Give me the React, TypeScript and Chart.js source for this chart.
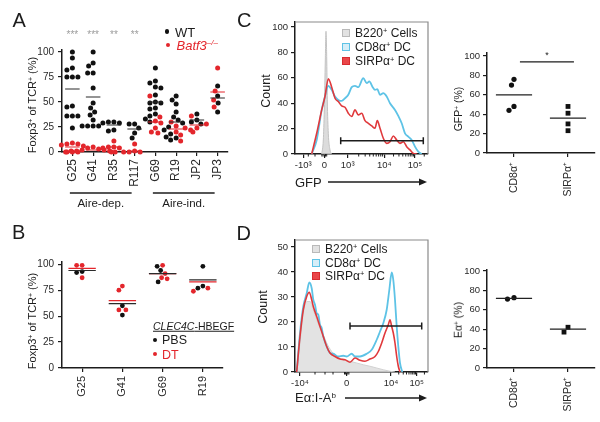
import React, { useEffect, useRef } from 'react';
import { Chart, registerables } from 'chart.js';

Chart.register(...registerables);

/* ======================= DATA ======================= */

// ---- Panel A: Foxp3+ of TCR+ (%) per TCR clone, WT vs Batf3-/- ----
const aCategories = ['G25', 'G41', 'R35', 'R117', 'G69', 'R19', 'JP2', 'JP3'];
const aWT = [
  [100, 94, 84, 82, 75, 75, 75, 46, 45, 36, 36, 36, 24],
  [100, 89, 86, 79, 79, 64, 49, 44, 40, 37, 32, 26, 26, 26, 26],
  [30, 30, 29, 29, 22, 21],
  [28, 28, 24, 19, 14],
  [84, 71, 69, 65, 64, 57, 50, 49, 49, 44, 43, 38, 36, 33, 30],
  [56, 52, 48, 40, 35, 32, 29, 25, 22, 18, 15, 14, 12],
  [38, 32, 30, 28],
  [66, 56, 49, 40],
];
const aBatf3 = [
  [9, 8, 8, 7, 6, 0, 0, 0],
  [5, 4, 3, 2, 2, 1, 1, 1, 0, 0],
  [11, 5, 5, 4, 4, 0],
  [8, 1, 0, 0, 0],
  [56, 35, 31, 29, 24, 20, 19],
  [30, 26, 24, 22, 20, 17, 11],
  [36, 28, 24, 20],
  [84, 61, 52, 45],
];
const aWTMean = [63, 55, 27, 23, 50, 30, 32, 54];
const aBatf3Mean = [5, 2, 5, 1, 30, 23, 27, 60];
const aSignif = ['***', '***', '**', '**', '', '', '', ''];
const aStarLevel = 117;
const aGroups = [
  { label: 'Aire-dep.', first: 0, last: 3 },
  { label: 'Aire-ind.', first: 4, last: 7 },
];
const aYTicks = [0, 25, 50, 75, 100];

// ---- Panel B: CLEC4C-HBEGF, PBS vs DT ----
const bCategories = ['G25', 'G41', 'G69', 'R19'];
const bPBS = [
  [93, 92],
  [60, 51],
  [98, 94, 83],
  [98, 79, 77],
];
const bDT = [
  [99, 99, 87],
  [79, 75, 56, 56],
  [99, 91, 87, 86],
  [77, 74],
];
const bPBSMean = [94, 62, 91, 85];
const bDTMean = [96, 65, 91, 83];
const bYTicks = [0, 25, 50, 75, 100];

// ---- Panel C: GFP histogram (x = position on biexponential display axis) ----
const cXTickValues = [8.3, 29.3, 52.7, 89.3, 120];
const cXTickLabels = ['-10³', '0', '10³', '10⁴', '10⁵'];
const cYTicks = [0, 20, 40, 60, 80, 100];
const cGrayX = [26.7, 28.3, 29.3, 30.3, 31, 31.7, 32.3, 33.3, 35, 36.7];
const cGrayY = [0, 11, 34.7, 74, 96.6, 76.8, 42.6, 16.3, 3.2, 0];
const cBlueX = [16.7, 21.7, 26.7, 30, 33.3, 36.7, 40, 43.3, 46.7, 50, 53.3, 56.7, 60, 63.3, 68.3, 71.7, 74.3, 77.7, 80, 82.3, 85, 88.3, 91.7, 95, 100, 103.3, 106.7, 110, 113.3, 116.7, 120, 123.3, 126.7];
const cBlueY = [0, 11, 34.7, 45.3, 53.7, 50.5, 45.3, 42.6, 41.8, 43.9, 46.6, 52.6, 53.7, 52.6, 59.7, 55.8, 57.1, 52.6, 50.5, 51, 46.6, 47.9, 45.3, 40, 34.7, 30, 24.2, 16.3, 13.7, 11, 5.8, 1.8, 0];
const cRedX = [16.7, 21.7, 26.7, 30, 33.3, 36.7, 40, 43.3, 46.7, 50, 53.3, 56.7, 60, 63.3, 66.7, 70, 73.3, 76.7, 80, 82.3, 85, 88.3, 91.7, 95, 98.3, 101.7, 105, 108.3, 111.7, 115, 118.3, 121.7];
const cRedY = [0, 16.3, 34.7, 45.3, 59.2, 52.6, 43.9, 41.3, 37.9, 36.8, 32.1, 29.5, 34.7, 30.8, 32.1, 26.3, 24.2, 22.1, 20.3, 26.3, 20.3, 12.4, 8.4, 9.7, 14.2, 11, 8.4, 9.7, 5.8, 3.2, 0.5, 0];
const cGate = { from: 45.7, to: 128.3, y: 10.5 };
const cZeroCluster = [26.9, 28.1, 30.5, 31.7, 13.3, 20];

// ---- Panel C: GFP+ (%) dot plot ----
const cdCategories = ['CD8α⁺', 'SIRPα⁺'];
const cdCD8 = [76, 70, 48, 44];
const cdSIRP = [48, 41, 30, 23];
const cdMeans = [60, 36];
const cdSig = { label: '*', from: 1.22, to: 3.22, y: 94, starY: 100 };
const cdYTicks = [0, 20, 40, 60, 80, 100];

// ---- Panel D: Eα:I-Ab histogram ----
const dXTickValues = [5, 51.7, 96, 121.7];
const dXTickLabels = ['-10⁴', '0', '10⁴', '10⁵'];
const dYTicks = [0, 10, 20, 30, 40, 50];
const dGrayX = [1.7, 5, 8.3, 11.7, 15, 18.3, 21.7, 25, 28.3, 31.7, 36.7, 41.7, 48.3, 55, 61.7, 68.3, 75, 81.7, 88.3, 95, 100];
const dGrayY = [0, 11.6, 23.5, 28.2, 28.2, 24.9, 20.9, 17.6, 14.9, 11.6, 8.2, 6.2, 4.9, 4.3, 3.6, 2.9, 2.3, 1.6, 0.9, 0.3, 0];
const dBlueX = [1.7, 5, 8.3, 11.7, 14.3, 16.7, 18.3, 20, 21.7, 23.3, 25, 26.7, 28.3, 31.7, 35, 38.3, 43.3, 48.3, 51.7, 56.7, 60, 65, 71.7, 76.7, 81.7, 85, 88.3, 91.7, 94.3, 96.7, 98.3, 100, 101.7, 103.3, 105, 107.3];
const dBlueY = [0, 15.6, 26.2, 31.5, 35.8, 33.5, 28.9, 26.9, 23.5, 22.9, 18.9, 17.6, 14.2, 10.2, 7.6, 7.3, 6.2, 6.5, 6.2, 7.3, 6.2, 6.2, 7.3, 8.9, 12.9, 16.2, 19.5, 24.9, 32.8, 39.8, 36.8, 28.9, 18.2, 10.2, 3.6, 0];
const dRedX = [1.7, 5, 8.3, 11.7, 14.3, 16.7, 18.3, 21.7, 25, 28.3, 31.7, 35, 40, 45, 50, 55, 60, 65, 70, 75, 80, 83.3, 86.7, 90, 93.3, 95, 96.7, 98.3, 100, 101.7, 103.3, 105];
const dRedY = [0, 14.2, 24.9, 30.2, 31.9, 28.9, 26.2, 22.2, 18.2, 14.2, 10.2, 7.6, 6.2, 5.2, 4.9, 3.9, 5.6, 4.7, 4.3, 5.2, 6.2, 8.2, 11.6, 15.6, 18.9, 20.9, 18.2, 15.6, 11.6, 6.2, 2.3, 0];
const dGate = { from: 55, to: 126.7, y: 18.4 };
const dZeroCluster = [49.5, 50.6, 52.8, 53.9, 20, 30, 38];

// ---- Panel D: Eα+ (%) dot plot ----
const ddCD8 = [72.5, 71];
const ddSIRP = [42, 37];
const ddMeans = [71.7, 40];
const ddYTicks = [0, 20, 40, 60, 80, 100];

/* ======================= STYLE ======================= */
const FONT = '"Liberation Sans", Arial, Helvetica, sans-serif';
const INK = '#1c1c1c';
const TICK_INK = '#2a2a2a';
const RED = '#e3262c';
const BLUE = '#5ec3e6';
const STAR_GRAY = '#9c9c9c';

type Frame = { x: number; y: number; w: number; h: number; l: number; t: number; r: number; b: number };

const FRAME_A: Frame = { x: 0, y: 0, w: 240, h: 215, l: 62, t: 50, r: 228, b: 152 };
const FRAME_B: Frame = { x: 0, y: 215, w: 240, h: 207, l: 62, t: 262, r: 223, b: 368 };
const FRAME_CH: Frame = { x: 240, y: 0, w: 200, h: 200, l: 295, t: 22, r: 428, b: 154 };
const FRAME_CD: Frame = { x: 440, y: 0, w: 160, h: 205, l: 487, t: 53, r: 595, b: 153 };
const FRAME_DH: Frame = { x: 240, y: 205, w: 200, h: 217, l: 295, t: 240, r: 428, b: 372 };
const FRAME_DD: Frame = { x: 440, y: 205, w: 160, h: 217, l: 487, t: 270, r: 595, b: 368 };

/* ======================= HELPERS ======================= */
function swarmOffsets(values: number[], pxPerY: number, minDist: number): number[] {
  const order = values.map((_, i) => i).sort((a, b) => values[b] - values[a]);
  const placed: { x: number; y: number }[] = [];
  const out = new Array(values.length).fill(0);
  for (const i of order) {
    const yy = values[i] * pxPerY;
    let chosen = 0;
    for (let k = 0; k < 400; k++) {
      const off = k === 0 ? 0 : k % 2 === 1 ? -Math.ceil(k / 2) * 0.5 : Math.ceil(k / 2) * 0.5;
      if (placed.every((p) => (p.x - off) ** 2 + (p.y - yy) ** 2 >= minDist * minDist)) {
        chosen = off;
        break;
      }
    }
    placed.push({ x: chosen, y: yy });
    out[i] = chosen;
  }
  return out;
}

function meanSegments(centers: number[], means: number[], half: number) {
  const pts: { x: number; y: number | null }[] = [];
  means.forEach((m, i) => {
    pts.push({ x: centers[i] - half, y: m });
    pts.push({ x: centers[i] + half, y: m });
    pts.push({ x: centers[i] + half + 0.01, y: null });
  });
  return pts;
}

function zip(xs: number[], ys: number[]) {
  return xs.map((x, i) => ({ x, y: ys[i] }));
}

function logMinors(a: number, b: number, limit: number) {
  const out: number[] = [];
  for (let k = 2; k <= 9; k++) {
    const v = a + Math.log10(k) * (b - a);
    if (v < limit) out.push(v);
  }
  return out;
}

function axis(o: {
  kind: 'x' | 'y';
  f: Frame;
  min: number;
  max: number;
  values: number[];
  labels?: string[];
  size: number;
  padding: number;
  rotate?: boolean;
  tickLength?: number;
}) {
  const { kind, f } = o;
  return {
    type: 'linear',
    min: o.min,
    max: o.max,
    afterFit: (s: any) => {
      if (kind === 'x') s.height = f.y + f.h - f.b;
      else s.width = f.l - f.x;
    },
    afterBuildTicks: (s: any) => {
      s.ticks = o.values.map((v) => ({ value: v }));
    },
    border: { display: true, color: INK, width: 1.5 },
    grid: {
      display: true,
      drawOnChartArea: false,
      drawTicks: true,
      tickLength: o.tickLength ?? 4,
      color: INK,
      lineWidth: 1.2,
    },
    ticks: {
      color: TICK_INK,
      font: { family: FONT, size: o.size },
      padding: o.padding,
      autoSkip: false,
      minRotation: o.rotate ? 90 : 0,
      maxRotation: o.rotate ? 90 : 0,
      callback: (v: any, i: number) => (o.labels ? o.labels[i] : String(v)),
    },
  };
}

function baseOptions(f: Frame, x: any, y: any) {
  return {
    responsive: false,
    animation: false,
    devicePixelRatio: 1,
    events: [],
    layout: { padding: { left: 0, top: f.t - f.y, right: f.x + f.w - f.r, bottom: 0 } },
    plugins: { legend: { display: false }, tooltip: { enabled: false } },
    scales: { x, y },
  };
}

function dots(data: any[], color: string, radius: number, style = 'circle') {
  return {
    data,
    showLine: false,
    pointStyle: style,
    pointRadius: radius,
    pointBackgroundColor: color,
    pointBorderColor: color,
    pointBorderWidth: 0,
    clip: false,
  };
}

function meanLine(data: any[], color: string, width = 1.2) {
  return {
    data,
    showLine: true,
    spanGaps: false,
    pointRadius: 0,
    borderColor: color,
    borderWidth: width,
    clip: false,
  };
}

/* ======================= CHART BUILDERS ======================= */
function buildA(f: Frame) {
  const xMin = -0.5;
  const xMax = aCategories.length - 0.5;
  const yMax = 102;
  const pxX = (f.r - f.l) / (xMax - xMin);
  const pxY = (f.b - f.t) / yMax;
  const wt: any[] = [];
  const ko: any[] = [];
  aCategories.forEach((_, i) => {
    const vals = [...aWT[i], ...aBatf3[i]];
    const offs = swarmOffsets(vals, pxY, 5.4);
    vals.forEach((v, j) => {
      const p = { x: i + offs[j] / pxX, y: v };
      (j < aWT[i].length ? wt : ko).push(p);
    });
  });
  const centers = aCategories.map((_, i) => i);
  const decor = {
    id: 'aDecor',
    afterDraw(chart: any) {
      const { ctx, chartArea: a } = chart;
      const xs = chart.scales.x;
      const ys = chart.scales.y;
      ctx.save();
      ctx.fillStyle = STAR_GRAY;
      ctx.font = `10px ${FONT}`;
      ctx.textAlign = 'center';
      ctx.textBaseline = 'middle';
      aSignif.forEach((s, i) => {
        if (s) ctx.fillText(s, xs.getPixelForValue(i), ys.getPixelForValue(aStarLevel));
      });
      ctx.strokeStyle = INK;
      ctx.lineWidth = 1.3;
      ctx.fillStyle = INK;
      ctx.font = `11.5px ${FONT}`;
      aGroups.forEach((g) => {
        const x1 = xs.getPixelForValue(g.first) - 2.5;
        const x2 = xs.getPixelForValue(g.last) - 3;
        const ly = a.bottom + 41;
        ctx.beginPath();
        ctx.moveTo(x1, ly);
        ctx.lineTo(x2, ly);
        ctx.stroke();
        ctx.fillText(g.label, (x1 + x2) / 2, ly + 11);
      });
      ctx.restore();
    },
  };
  return {
    type: 'scatter',
    data: {
      datasets: [
        meanLine(meanSegments(centers, aWTMean, 0.35), '#2a2a2a', 1.1),
        meanLine(meanSegments(centers, aBatf3Mean, 0.35), RED, 1.1),
        dots(ko, RED, 2.5),
        dots(wt, '#111111', 2.5),
      ],
    },
    options: baseOptions(
      f,
      axis({ kind: 'x', f, min: xMin, max: xMax, values: centers, labels: aCategories, size: 12, padding: 3, rotate: true }),
      axis({ kind: 'y', f, min: 0, max: yMax, values: aYTicks, size: 10, padding: 4 })
    ),
    plugins: [decor],
  };
}

function buildB(f: Frame) {
  const xMin = -0.5;
  const xMax = bCategories.length - 0.5;
  const yMax = 102.2;
  const pxX = (f.r - f.l) / (xMax - xMin);
  const pxY = (f.b - f.t) / yMax;
  const pbs: any[] = [];
  const dt: any[] = [];
  bCategories.forEach((_, i) => {
    const vals = [...bPBS[i], ...bDT[i]];
    const offs = swarmOffsets(vals, pxY, 5.4);
    vals.forEach((v, j) => {
      const p = { x: i + offs[j] / pxX, y: v };
      (j < bPBS[i].length ? pbs : dt).push(p);
    });
  });
  const centers = bCategories.map((_, i) => i);
  return {
    type: 'scatter',
    data: {
      datasets: [
        meanLine(meanSegments(centers, bPBSMean, 0.34), '#2a2a2a', 1.2),
        meanLine(meanSegments(centers, bDTMean, 0.34), RED, 1.2),
        dots(pbs, '#111111', 2.4),
        dots(dt, RED, 2.4),
      ],
    },
    options: baseOptions(
      f,
      axis({ kind: 'x', f, min: xMin, max: xMax, values: centers, labels: bCategories, size: 11, padding: 4, rotate: true }),
      axis({ kind: 'y', f, min: 0, max: yMax, values: bYTicks, size: 10, padding: 4 })
    ),
  };
}

function histDecor(gate: { from: number; to: number; y: number }, minorX: number[], arrowStart: number, arrowDrop: number) {
  return {
    id: 'histDecor',
    afterDraw(chart: any) {
      const { ctx, chartArea: a } = chart;
      const xs = chart.scales.x;
      const ys = chart.scales.y;
      ctx.save();
      ctx.strokeStyle = '#8a8a8a';
      ctx.lineWidth = 1.2;
      ctx.beginPath();
      ctx.moveTo(a.left, a.top);
      ctx.lineTo(a.right, a.top);
      ctx.lineTo(a.right, a.bottom);
      ctx.stroke();
      ctx.strokeStyle = INK;
      ctx.lineWidth = 1;
      minorX.forEach((v) => {
        const px = xs.getPixelForValue(v);
        ctx.beginPath();
        ctx.moveTo(px, a.bottom);
        ctx.lineTo(px, a.bottom + 2.5);
        ctx.stroke();
      });
      const gy = ys.getPixelForValue(gate.y);
      const g1 = xs.getPixelForValue(gate.from);
      const g2 = xs.getPixelForValue(gate.to);
      ctx.lineWidth = 1.5;
      ctx.beginPath();
      ctx.moveTo(g1, gy);
      ctx.lineTo(g2, gy);
      ctx.moveTo(g1, gy - 3.5);
      ctx.lineTo(g1, gy + 3.5);
      ctx.moveTo(g2, gy - 3.5);
      ctx.lineTo(g2, gy + 3.5);
      ctx.stroke();
      const ay = a.bottom + arrowDrop;
      const ax1 = a.left + arrowStart;
      const ax2 = a.right - 1;
      ctx.lineWidth = 1.4;
      ctx.beginPath();
      ctx.moveTo(ax1, ay);
      ctx.lineTo(ax2 - 6, ay);
      ctx.stroke();
      ctx.fillStyle = INK;
      ctx.beginPath();
      ctx.moveTo(ax2, ay);
      ctx.lineTo(ax2 - 8, ay - 3.5);
      ctx.lineTo(ax2 - 8, ay + 3.5);
      ctx.closePath();
      ctx.fill();
      ctx.restore();
    },
  };
}

function curve(data: any[], color: string, width: number, fill?: string) {
  return {
    data,
    showLine: true,
    pointRadius: 0,
    borderColor: color,
    borderWidth: width,
    cubicInterpolationMode: 'monotone',
    fill: fill ? 'origin' : false,
    backgroundColor: fill || 'transparent',
  };
}

function buildCHist(f: Frame) {
  const yMax = 103.9;
  const minors = [
    ...logMinors(cXTickValues[2], cXTickValues[3], 133),
    ...logMinors(cXTickValues[3], cXTickValues[4], 133),
    ...logMinors(cXTickValues[4], cXTickValues[4] + (cXTickValues[4] - cXTickValues[3]), 133),
    ...cZeroCluster,
  ];
  return {
    type: 'scatter',
    data: {
      datasets: [
        curve(zip(cRedX, cRedY), '#e0393c', 1.6),
        curve(zip(cBlueX, cBlueY), BLUE, 1.8),
        curve(zip(cGrayX, cGrayY), '#c2c2c2', 1, 'rgba(214,214,214,0.85)'),
      ],
    },
    options: baseOptions(
      f,
      axis({ kind: 'x', f, min: 0, max: 133, values: cXTickValues, labels: cXTickLabels, size: 9.5, padding: 2 }),
      axis({ kind: 'y', f, min: 0, max: yMax, values: cYTicks, size: 9.5, padding: 3 })
    ),
    plugins: [histDecor(cGate, minors, 33, 28)],
  };
}

function buildDHist(f: Frame) {
  const yMax = 52.8;
  const minors = [
    ...logMinors(dXTickValues[2], dXTickValues[3], 133),
    ...logMinors(dXTickValues[3], dXTickValues[3] + (dXTickValues[3] - dXTickValues[2]), 133),
    ...dZeroCluster,
  ];
  return {
    type: 'scatter',
    data: {
      datasets: [
        curve(zip(dRedX, dRedY), '#e0393c', 1.6),
        curve(zip(dBlueX, dBlueY), BLUE, 1.8),
        curve(zip(dGrayX, dGrayY), '#d2d2d2', 1, 'rgba(222,222,222,0.85)'),
      ],
    },
    options: baseOptions(
      f,
      axis({ kind: 'x', f, min: 0, max: 133, values: dXTickValues, labels: dXTickLabels, size: 9.5, padding: 2 }),
      axis({ kind: 'y', f, min: 0, max: yMax, values: dYTicks, size: 9.5, padding: 3 })
    ),
    plugins: [histDecor(dGate, minors, 50, 26)],
  };
}

function buildDot(
  f: Frame,
  first: number[],
  second: number[],
  means: number[],
  yMax: number,
  yTicks: number[],
  sig?: { label: string; from: number; to: number; y: number; starY: number }
) {
  const centers = [1, 3];
  const pxX = (f.r - f.l) / 4;
  const pxY = (f.b - f.t) / yMax;
  const o1 = swarmOffsets(first, pxY, 6.2);
  const o2 = swarmOffsets(second, pxY, 6.2);
  const p1 = first.map((v, i) => ({ x: centers[0] + o1[i] / pxX, y: v }));
  const p2 = second.map((v, i) => ({ x: centers[1] + o2[i] / pxX, y: v }));
  const plugins: any[] = [];
  if (sig) {
    plugins.push({
      id: 'sig',
      afterDraw(chart: any) {
        const { ctx } = chart;
        const xs = chart.scales.x;
        const ys = chart.scales.y;
        const x1 = xs.getPixelForValue(sig.from);
        const x2 = xs.getPixelForValue(sig.to);
        const yy = ys.getPixelForValue(sig.y);
        ctx.save();
        ctx.strokeStyle = INK;
        ctx.lineWidth = 1.4;
        ctx.beginPath();
        ctx.moveTo(x1, yy);
        ctx.lineTo(x2, yy);
        ctx.stroke();
        ctx.fillStyle = INK;
        ctx.font = `9px ${FONT}`;
        ctx.textAlign = 'center';
        ctx.textBaseline = 'middle';
        ctx.fillText(sig.label, (x1 + x2) / 2, ys.getPixelForValue(sig.starY));
        ctx.restore();
      },
    });
  }
  return {
    type: 'scatter',
    data: {
      datasets: [
        meanLine(meanSegments(centers, means, 0.67), '#222222', 1.3),
        dots(p1, '#111111', 2.6),
        dots(p2, '#111111', 3.4, 'rect'),
      ],
    },
    options: baseOptions(
      f,
      axis({ kind: 'x', f, min: 0, max: 4, values: centers, labels: cdCategories, size: 10.5, padding: 5, rotate: true }),
      axis({ kind: 'y', f, min: 0, max: yMax, values: yTicks, size: 9.5, padding: 3 })
    ),
    plugins,
  };
}

/* ======================= COMPONENTS ======================= */
function ChartBox({ frame, build }: { frame: Frame; build: (f: Frame) => any }) {
  const ref = useRef<HTMLCanvasElement | null>(null);
  useEffect(() => {
    if (!ref.current) return;
    const chart = new Chart(ref.current, build(frame));
    return () => chart.destroy();
  }, []);
  return (
    <canvas
      ref={ref}
      width={frame.w}
      height={frame.h}
      style={{ position: 'absolute', left: frame.x, top: frame.y, width: frame.w, height: frame.h }}
    />
  );
}

function Sup({ children }: { children: any }) {
  return <span style={{ fontSize: '0.62em', position: 'relative', top: '-0.5em' }}>{children}</span>;
}

function Txt({
  x,
  y,
  size,
  rot,
  color = INK,
  italic,
  children,
  style,
}: {
  x: number;
  y: number;
  size: number;
  rot?: boolean;
  color?: string;
  italic?: boolean;
  children: any;
  style?: any;
}) {
  return (
    <div
      style={{
        position: 'absolute',
        left: x,
        top: y,
        transform: rot ? 'translate(-50%, -50%) rotate(-90deg)' : 'translate(0, -50%)',
        fontSize: size,
        lineHeight: 1,
        whiteSpace: 'nowrap',
        color,
        fontStyle: italic ? 'italic' : 'normal',
        ...style,
      }}
    >
      {children}
    </div>
  );
}

function Dot({ x, y, r, color }: { x: number; y: number; r: number; color: string }) {
  return (
    <div
      style={{ position: 'absolute', left: x - r, top: y - r, width: 2 * r, height: 2 * r, borderRadius: '50%', background: color }}
    />
  );
}

function Swatch({ x, y, fill, stroke }: { x: number; y: number; fill: string; stroke: string }) {
  return (
    <div
      style={{
        position: 'absolute',
        left: x,
        top: y - 4,
        width: 8,
        height: 8,
        boxSizing: 'border-box',
        background: fill,
        border: `1.5px solid ${stroke}`,
      }}
    />
  );
}

function HistLegend({ x, y0, dy }: { x: number; y0: number; dy: number }) {
  return (
    <>
      <Swatch x={x} y={y0} fill="#e2e2e2" stroke="#b9b9b9" />
      <Swatch x={x} y={y0 + dy} fill="#d6eef8" stroke={BLUE} />
      <Swatch x={x} y={y0 + 2 * dy} fill="#ea4649" stroke="#d72c30" />
      <Txt x={x + 13} y={y0} size={12}>
        B220<Sup>+</Sup> Cells
      </Txt>
      <Txt x={x + 13} y={y0 + dy} size={12}>
        CD8α<Sup>+</Sup> DC
      </Txt>
      <Txt x={x + 13} y={y0 + 2 * dy} size={12}>
        SIRPα<Sup>+</Sup> DC
      </Txt>
    </>
  );
}

export default function App() {
  return (
    <div
      style={{
        position: 'fixed',
        left: 0,
        top: 0,
        width: 600,
        height: 422,
        background: '#ffffff',
        overflow: 'hidden',
        fontFamily: FONT,
        color: INK,
      }}
    >
      <ChartBox frame={FRAME_A} build={buildA} />
      <ChartBox frame={FRAME_B} build={buildB} />
      <ChartBox frame={FRAME_CH} build={buildCHist} />
      <ChartBox frame={FRAME_CD} build={(f) => buildDot(f, cdCD8, cdSIRP, cdMeans, 103.1, cdYTicks, cdSig)} />
      <ChartBox frame={FRAME_DH} build={buildDHist} />
      <ChartBox frame={FRAME_DD} build={(f) => buildDot(f, ddCD8, ddSIRP, ddMeans, 101, ddYTicks)} />

      {/* panel letters */}
      <Txt x={12.5} y={20} size={20}>A</Txt>
      <Txt x={12} y={231.5} size={20}>B</Txt>
      <Txt x={237} y={19.5} size={20}>C</Txt>
      <Txt x={236.5} y={232.5} size={20}>D</Txt>

      {/* Panel A */}
      <Txt x={32} y={105} size={11} rot>
        Foxp3<Sup>+</Sup> of TCR<Sup>+</Sup> (%)
      </Txt>
      <Dot x={167} y={31.5} r={2.2} color="#111" />
      <Txt x={175} y={32} size={13}>WT</Txt>
      <Dot x={168} y={45} r={2.2} color={RED} />
      <Txt x={176.5} y={45.5} size={13} color={RED} italic>
        Batf3<Sup>–/–</Sup>
      </Txt>

      {/* Panel B */}
      <Txt x={32} y={321} size={11} rot>
        Foxp3<Sup>+</Sup> of TCR<Sup>+</Sup> (%)
      </Txt>
      <Txt x={153} y={326} size={10.5} style={{ textDecoration: 'underline' }}>
        <i>CLEC4C</i>-HBEGF
      </Txt>
      <Dot x={154.5} y={339.5} r={2} color="#111" />
      <Txt x={162} y={340} size={12.5}>PBS</Txt>
      <Dot x={154.5} y={354} r={2} color={RED} />
      <Txt x={162} y={354.5} size={12.5} color={RED}>DT</Txt>

      {/* Panel C */}
      <Txt x={265.5} y={91} size={12.5} rot>Count</Txt>
      <Txt x={295} y={182} size={13}>GFP</Txt>
      <HistLegend x={342} y0={33} dy={14.2} />
      <Txt x={458} y={109} size={10.5} rot>
        GFP<Sup>+</Sup> (%)
      </Txt>

      {/* Panel D */}
      <Txt x={263} y={307} size={12.5} rot>Count</Txt>
      <Txt x={295} y={398} size={13}>
        Eα:I-A<Sup>b</Sup>
      </Txt>
      <HistLegend x={312} y0={249} dy={13.5} />
      <Txt x={458} y={320} size={10.5} rot>
        Eα<Sup>+</Sup> (%)
      </Txt>
    </div>
  );
}
